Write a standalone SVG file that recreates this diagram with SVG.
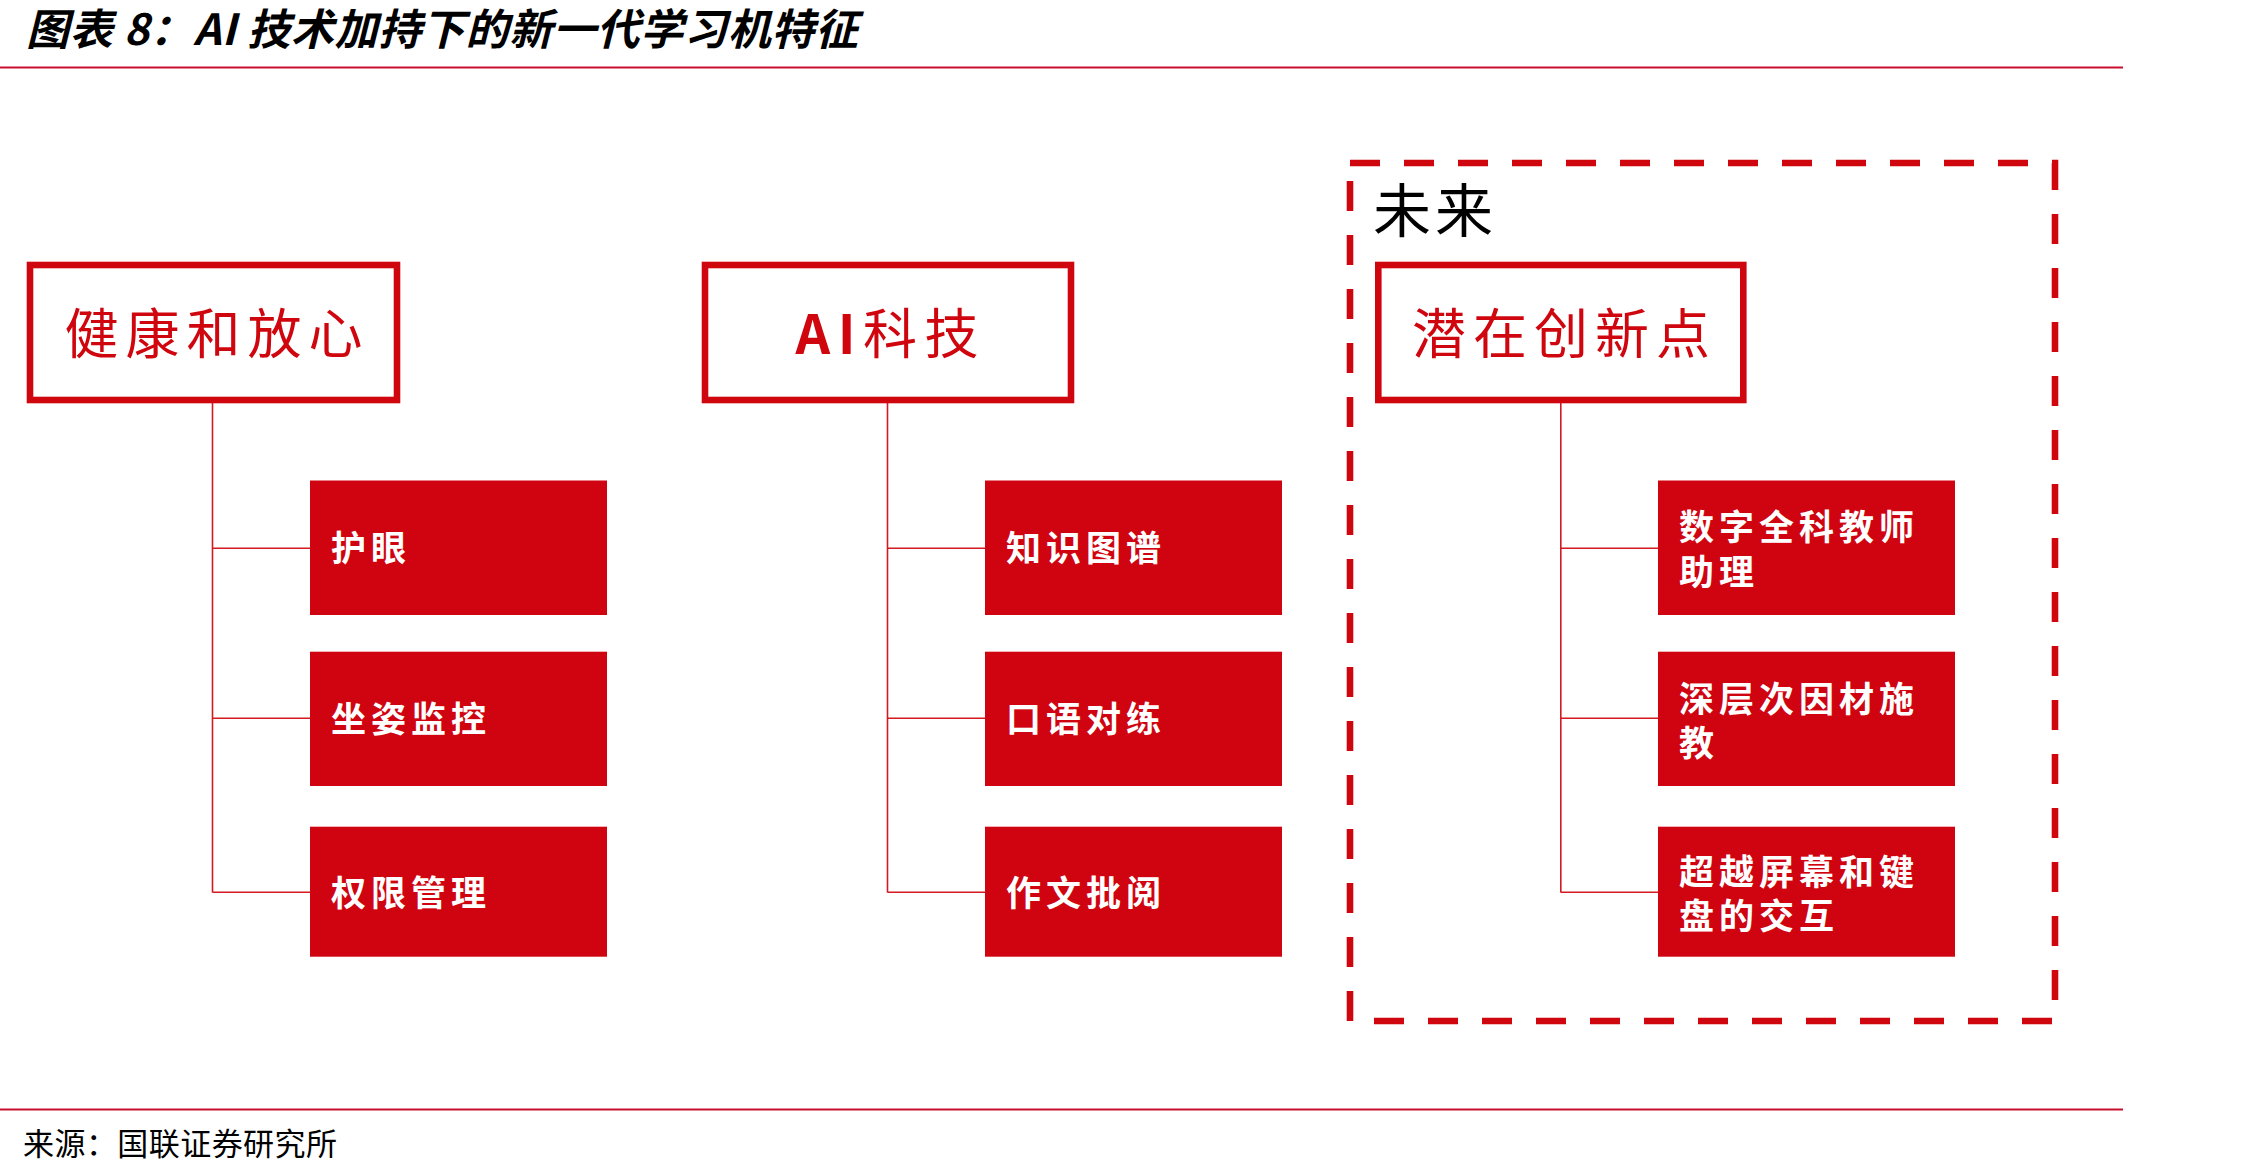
<svg xmlns="http://www.w3.org/2000/svg" width="2257" height="1175" viewBox="0 0 2257 1175">
<style>
.hdr{fill:#fff;stroke:#D0060F;stroke-width:6.6}
.hdrt{font-family:"Noto Sans CJK SC","Noto Sans",sans-serif;font-size:54px;fill:#D0060F;text-anchor:middle}
.child{fill:#CF0410}
.ct{font-family:"Noto Sans CJK SC","Noto Sans",sans-serif;font-size:35px;font-weight:bold;fill:#fff;letter-spacing:5px}
.conn{fill:none;stroke:#D31A22;stroke-width:1.6}
.rule{stroke:#C8102E;stroke-width:2.2}
</style>
<rect width="2257" height="1175" fill="#fff"/>
<g id="title">
<text x="26" y="45" font-family="'Noto Sans CJK SC','Noto Sans',sans-serif" font-size="43" font-weight="bold" font-style="italic" fill="#000" textLength="832" lengthAdjust="spacing">图表 8：AI 技术加持下的新一代学习机特征</text>
<line class="rule" x1="0" y1="67.5" x2="2123" y2="67.5"/>
</g>
<g id="future-box">
<rect x="1350" y="163" width="705" height="858" fill="none" stroke="#D0060F" stroke-width="6.6" stroke-dasharray="30 24"/>
<text x="1373" y="232" font-family="'Noto Sans CJK SC','Noto Sans',sans-serif" font-size="58" fill="#000" letter-spacing="4">未来</text>
</g>
<g id="connectors">
<path class="conn" d="M212.5 403V892.5M212.5 548.3H310M212.5 718.3H310M212.5 892.3H310"/>
<path class="conn" d="M887.5 403V892.5M887.5 548.3H985M887.5 718.3H985M887.5 892.3H985"/>
<path class="conn" d="M1560.8 403V892.5M1560.8 548.3H1658M1560.8 718.3H1658M1560.8 892.3H1658"/>
</g>
<g id="node-health">
<rect class="hdr" x="30" y="265" width="367" height="135"/>
<text class="hdrt" x="213.5" y="354" textLength="298" lengthAdjust="spacing">健康和放心</text>
</g>
<g id="node-ai">
<rect class="hdr" x="705" y="265" width="366" height="135"/>
<text class="hdrt" x="887" y="354" textLength="183" lengthAdjust="spacing"><tspan font-weight="bold">AI</tspan>科技</text>
</g>
<g id="node-innovation">
<rect class="hdr" x="1378.3" y="265" width="365" height="135"/>
<text class="hdrt" x="1561" y="354" textLength="298" lengthAdjust="spacing">潜在创新点</text>
</g>
<g id="node-eye"><rect class="child" x="310" y="480.5" width="297" height="134.5"/><text class="ct" x="331" y="561">护眼</text></g>
<g id="node-posture"><rect class="child" x="310" y="651.7" width="297" height="134.3"/><text class="ct" x="331" y="732">坐姿监控</text></g>
<g id="node-permission"><rect class="child" x="310" y="826.7" width="297" height="130"/><text class="ct" x="331" y="906">权限管理</text></g>
<g id="node-knowledge"><rect class="child" x="985" y="480.5" width="297" height="134.5"/><text class="ct" x="1006" y="561">知识图谱</text></g>
<g id="node-oral"><rect class="child" x="985" y="651.7" width="297" height="134.3"/><text class="ct" x="1006" y="732">口语对练</text></g>
<g id="node-essay"><rect class="child" x="985" y="826.7" width="297" height="130"/><text class="ct" x="1006" y="906">作文批阅</text></g>
<g id="node-teacher"><rect class="child" x="1658" y="480.5" width="297" height="134.5"/><text class="ct" x="1679" y="540">数字全科教师<tspan x="1679" dy="45">助理</tspan></text></g>
<g id="node-deep"><rect class="child" x="1658" y="651.7" width="297" height="134.3"/><text class="ct" x="1679" y="712">深层次因材施<tspan x="1679" dy="44">教</tspan></text></g>
<g id="node-beyond"><rect class="child" x="1658" y="826.7" width="297" height="130"/><text class="ct" x="1679" y="885">超越屏幕和键<tspan x="1679" dy="44">盘的交互</tspan></text></g>
<g id="footer">
<line class="rule" x1="0" y1="1109.5" x2="2123" y2="1109.5"/>
<text x="23" y="1155" font-family="'Noto Sans CJK SC','Noto Sans',sans-serif" font-size="31" fill="#000" textLength="314" lengthAdjust="spacing">来源：国联证券研究所</text>
</g>
</svg>
